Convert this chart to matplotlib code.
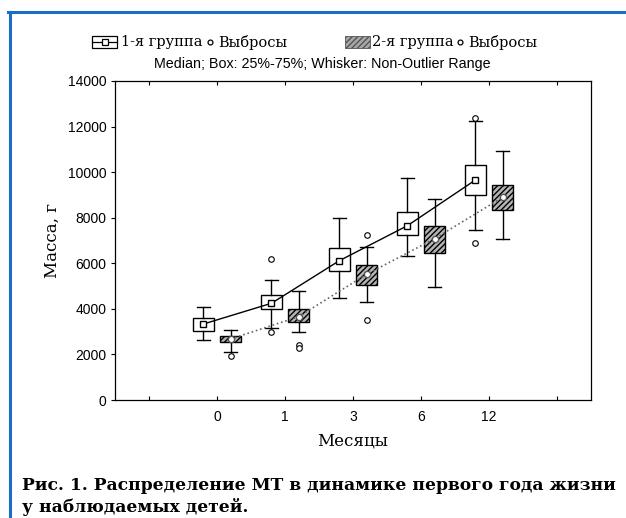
import matplotlib

matplotlib.use("Agg")
import matplotlib.pyplot as plt
from matplotlib.patches import Rectangle
from matplotlib.lines import Line2D

MONTHS = ["0", "1", "3", "6", "12"]

# group 1 (white boxes)
G1_WLO = [2630, 3145, 4476, 6320, 7461]
G1_Q1 = [3028, 3979, 5661, 7255, 8982]
G1_MED = [3335, 4243, 6115, 7650, 9655]
G1_Q3 = [3585, 4608, 6657, 8251, 10300]
G1_WHI = [4068, 5266, 7973, 9743, 12245]
G1_OUT = [[], [6175, 2970], [], [], [12362, 6876]]

# group 2 (hatched boxes)
G2_WLO = [2121, 2998, 4287, 4959, 7051]
G2_Q1 = [2531, 3437, 5047, 6465, 8352]
G2_MED = [2677, 3657, 5516, 7080, 8895]
G2_Q3 = [2823, 3979, 5925, 7621, 9422]
G2_WHI = [3086, 4769, 6715, 8835, 10928]
G2_OUT = [[1946], [2414, 2268], [7255, 3524], [], []]

SERIF = "DejaVu Serif"
SANS = "Liberation Sans"
BLUE = "#1a6fc4"
plt.rcParams["hatch.color"] = "#333333"


def stats(wlo, q1, med, q3, whi, out):
    return [dict(whislo=a, q1=b, med=c, q3=d, whishi=e, fliers=f)
            for a, b, c, d, e, f in zip(wlo, q1, med, q3, whi, out)]


def fx(px):
    return px / 626


def fy(py):
    return 1 - py / 518


fig = plt.figure(figsize=(6.26, 5.18), dpi=100)
ax = fig.add_axes([fx(115), fy(400), 476 / 626, 319 / 518])

xs = list(range(len(MONTHS)))
off, w = 0.2, 0.32
x1 = [x - off for x in xs]
x2 = [x + off for x in xs]

flier = dict(marker="o", markersize=4, markerfacecolor="white",
             markeredgecolor="black", markeredgewidth=0.8, linestyle="none")
common = dict(widths=w, patch_artist=True, capwidths=0.2,
              whiskerprops=dict(color="black", linewidth=1.0),
              capprops=dict(color="black", linewidth=1.0),
              medianprops=dict(linewidth=0), flierprops=flier)
ax.bxp(stats(G1_WLO, G1_Q1, G1_MED, G1_Q3, G1_WHI, G1_OUT), positions=x1,
       boxprops=dict(facecolor="white", edgecolor="black", linewidth=1.0), **common)
b2 = ax.bxp(stats(G2_WLO, G2_Q1, G2_MED, G2_Q3, G2_WHI, G2_OUT), positions=x2,
            boxprops=dict(facecolor="#b5b5b5", edgecolor="black", linewidth=1.0), **common)
for b in b2["boxes"]:
    b.set_hatch("//////")

ax.plot(x1, G1_MED, "-", color="black", lw=1.0, marker="s", ms=5,
        mfc="white", mec="black", mew=1.0, zorder=5)
ax.plot(x2, G2_MED, ":", color="#666666", lw=1.2, marker="o", ms=4.5,
        mfc="white", mec="#555555", mew=1.0, zorder=5)

ax.set_xlim(-1.5, 5.5)
ax.set_ylim(0, 14000)
ax.set_xticks(range(-1, 6))
ax.set_xticklabels([""] + MONTHS + [""], fontsize=10, family=SANS)
ax.set_yticks(range(0, 14001, 2000))
ax.set_yticklabels([str(v) for v in range(0, 14001, 2000)], fontsize=10, family=SANS)
ax.tick_params(axis="x", direction="in", top=True, length=3, pad=7)
ax.tick_params(axis="y", direction="out", length=3, pad=3)
for s in ax.spines.values():
    s.set_linewidth(0.9)
ax.set_xlabel("Месяцы", family=SERIF, fontsize=12, labelpad=6)
ax.set_ylabel("Масса, г", family=SERIF, fontsize=12, labelpad=5)

# legend row
ly = fy(42)
fig.add_artist(Rectangle((fx(92), ly - 6 / 518), 25 / 626, 12 / 518, transform=fig.transFigure,
                         facecolor="white", edgecolor="black", lw=0.9))
fig.add_artist(Line2D([fx(92), fx(117)], [ly, ly], transform=fig.transFigure,
                      color="black", lw=0.9))
fig.add_artist(Line2D([fx(104.5)], [ly], transform=fig.transFigure, marker="s", ms=4.5,
                      mfc="white", mec="black", mew=0.9))
fig.text(fx(121), ly, "1-я группа", family=SERIF, fontsize=10.5, va="center")
fig.add_artist(Line2D([fx(210)], [ly], transform=fig.transFigure, marker="o", ms=3.5,
                      mfc="white", mec="black", mew=0.9))
fig.text(fx(218), ly, "Выбросы", family=SERIF, fontsize=10.5, va="center")
fig.add_artist(Rectangle((fx(345), ly - 6 / 518), 25 / 626, 12 / 518, transform=fig.transFigure,
                         facecolor="#a8a8a8", edgecolor="#555555", lw=0.6, hatch="//////"))
fig.text(fx(372), ly, "2-я группа", family=SERIF, fontsize=10.5, va="center")
fig.add_artist(Line2D([fx(460)], [ly], transform=fig.transFigure, marker="o", ms=3.5,
                      mfc="white", mec="black", mew=0.9))
fig.text(fx(468), ly, "Выбросы", family=SERIF, fontsize=10.5, va="center")

fig.text(fx(322), fy(64), "Median; Box: 25%-75%; Whisker: Non-Outlier Range",
         family=SANS, fontsize=10.3, ha="center", va="center")

fig.text(fx(22), fy(477),
         "Рис. 1. Распределение МТ в динамике первого года жизни\nу наблюдаемых детей.",
         family=SERIF, fontsize=12.3, fontweight="bold", va="top", linespacing=1.3)

# blue frame
fig.add_artist(Line2D([fx(8), 1.0], [fy(12), fy(12)], transform=fig.transFigure,
                      color=BLUE, lw=2.2))
fig.add_artist(Line2D([fx(10), fx(10)], [0, fy(12)], transform=fig.transFigure,
                      color=BLUE, lw=2.2))

fig.savefig("out.png", dpi=100)
